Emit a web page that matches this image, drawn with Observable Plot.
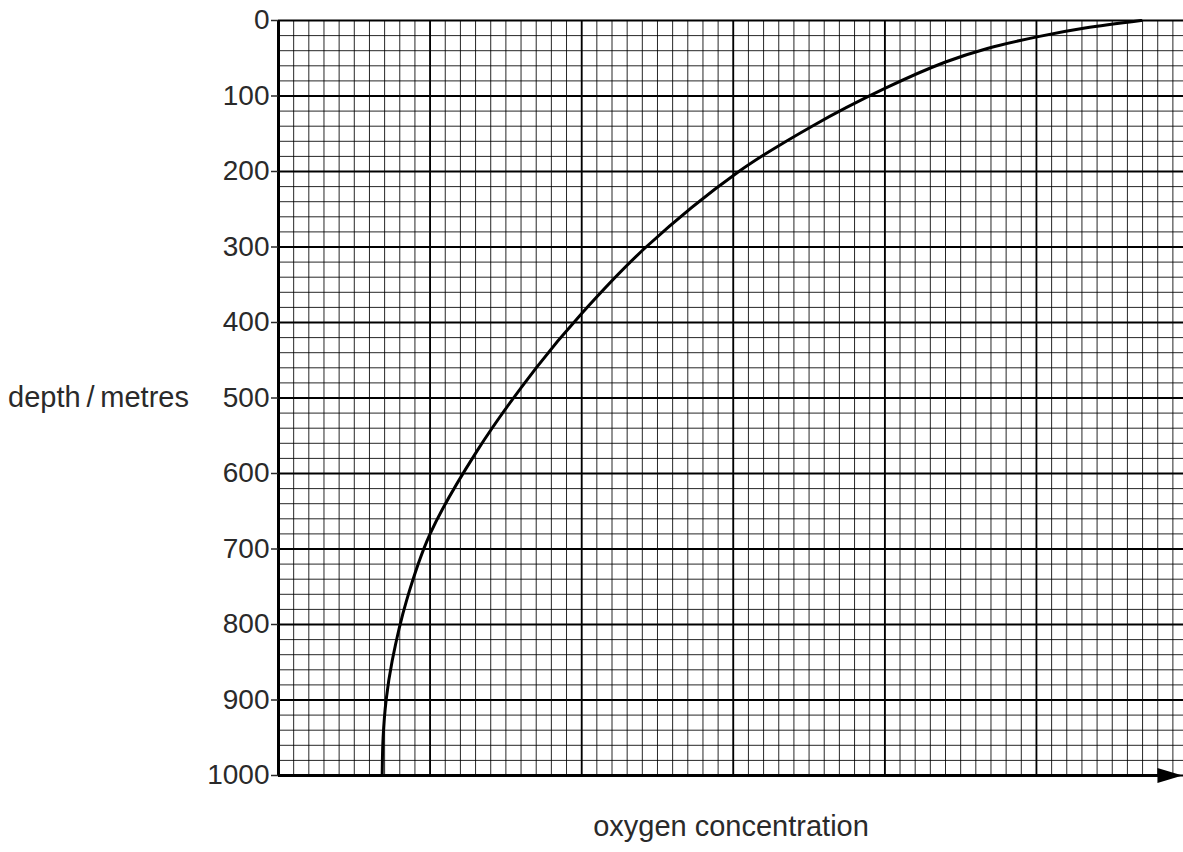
<!DOCTYPE html>
<html>
<head>
<meta charset="utf-8">
<script src="https://cdn.jsdelivr.net/npm/d3@7"></script>
<script src="https://cdn.jsdelivr.net/npm/@observablehq/plot@0.6"></script>
<style>
  html, body { margin: 0; padding: 0; background: #fff; }
  #chart svg { display: block; }
</style>
</head>
<body>
<div id="chart"></div>
<script>
// ---- data ----
// oxygen concentration in grid units (1 unit = one small square), depth in metres
const oxygen = [56.9, 53.2, 50.2, 46.76, 44.0, 40.0, 35.2, 30.3, 24.25, 20.0, 17.0, 13.1, 10.0, 8.45, 7.5, 7.1, 6.9, 6.84];
const depth  = [0,    10,   21,   37,    55,   90,   140,  201,  300,   388,  460,  570,  680,  768,  848, 900, 950, 1000];

const depthTicks = [0, 100, 200, 300, 400, 500, 600, 700, 800, 900, 1000];
const minorDepth = d3.range(0, 1001, 20);
const majorOxygen = [0, 10, 20, 30, 40, 50];
const minorOxygen = d3.range(0, 60, 1);
const xMax = 59.7;

const yLabel = "depth\u2009/\u2009metres";
const xLabel = "oxygen concentration";

const curve = oxygen.map((o, i) => ({oxygen: o, depth: depth[i]}));

const FONT = "'Liberation Sans', Arial, Helvetica, sans-serif";
const TEXT = "#2a2a2a";

// filled arrow head, tip at the point
const arrowHead = {
  draw(ctx) {
    ctx.moveTo(0, 0);
    ctx.lineTo(-25, -7.5);
    ctx.lineTo(-25, 7.5);
    ctx.closePath();
  }
};

const chart = Plot.plot({
  width: 1183,
  height: 852,
  marginLeft: 278,
  marginRight: 0,
  marginTop: 20,
  marginBottom: 77,
  style: {fontFamily: FONT, background: "#fff", color: TEXT, overflow: "visible"},
  x: {domain: [0, xMax], axis: null},
  y: {domain: [0, 1000], reverse: true, axis: null},
  marks: [
    // minor grid
    Plot.ruleX(minorOxygen, {stroke: "#000", strokeWidth: 1, strokeOpacity: 0.85}),
    Plot.ruleY(minorDepth, {stroke: "#000", strokeWidth: 1, strokeOpacity: 0.85}),
    // major grid
    Plot.ruleX(majorOxygen, {stroke: "#000", strokeWidth: 1.8}),
    Plot.ruleY(depthTicks, {stroke: "#000", strokeWidth: 1.8}),
    // axes
    Plot.ruleX([0], {stroke: "#000", strokeWidth: 3}),
    Plot.ruleY([1000], {x1: 0, x2: xMax - 1.5, stroke: "#000", strokeWidth: 3}),
    Plot.dot([{x: xMax - 0.07, y: 1000}], {x: "x", y: "y", symbol: arrowHead, fill: "#000", stroke: "none", r: 5}),
    Plot.axisY({ticks: depthTicks, tickSize: 7, tickPadding: 2, tickFormat: d => String(d), fontSize: 28, label: null, strokeWidth: 1.5}),
    // curve
    Plot.line(curve, {x: "oxygen", y: "depth", curve: "catmull-rom", stroke: "#000", strokeWidth: 3}),
    // labels
    Plot.text([{t: yLabel, d: 500}], {y: "d", text: "t", frameAnchor: "left", dx: -180, textAnchor: "middle", fontSize: 29, fill: TEXT}),
    Plot.text([xLabel], {frameAnchor: "bottom", dy: 60, textAnchor: "middle", fontSize: 29, fill: TEXT})
  ]
});

document.getElementById("chart").appendChild(chart);
</script>
</body>
</html>
